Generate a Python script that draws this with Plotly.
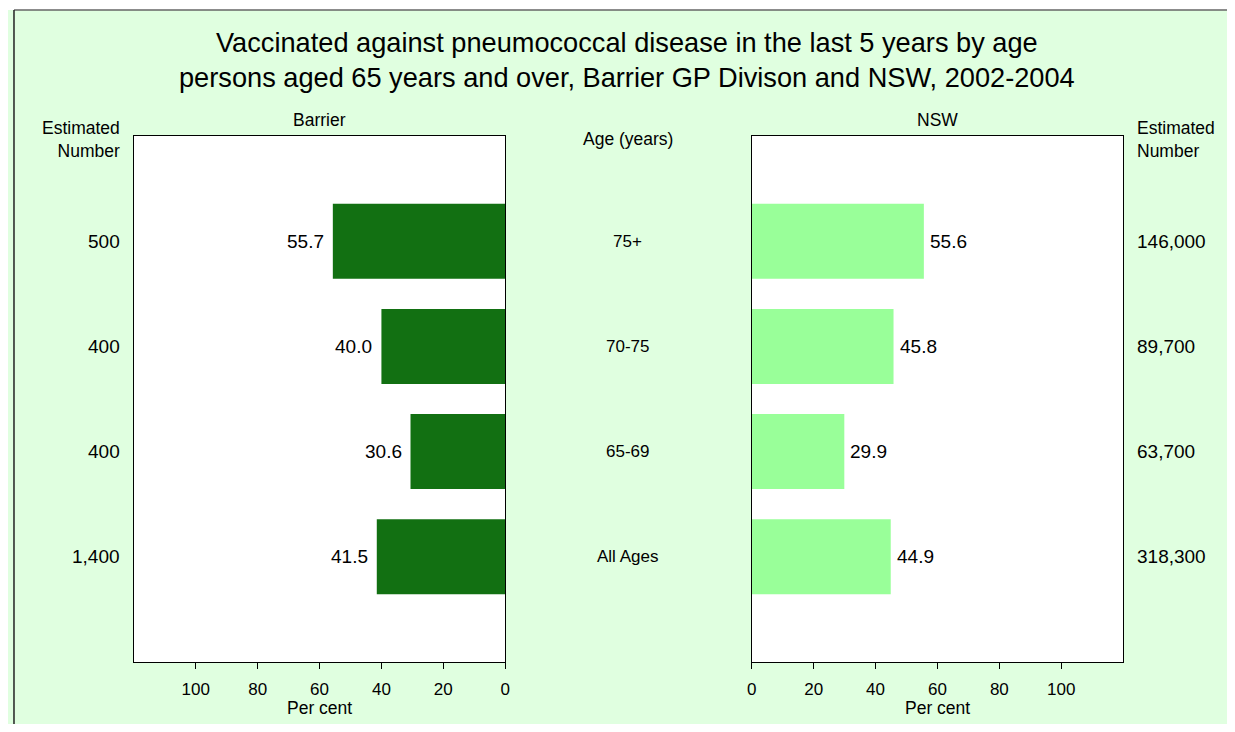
import plotly.graph_objects as go

ages = ["75+", "70-75", "65-69", "All Ages"]
barrier_pct = [55.7, 40.0, 30.6, 41.5]
nsw_pct = [55.6, 45.8, 29.9, 44.9]
barrier_n = ["500", "400", "400", "1,400"]
nsw_n = ["146,000", "89,700", "63,700", "318,300"]
x_ticks = [0, 20, 40, 60, 80, 100]

# page is offset by the default 8px body margin; keep the page from overflowing
OFF = 8
W, H = 1235 - OFF, 732 - 2 * OFF
FONT = "Liberation Sans, Arial, sans-serif"
BG = "#E0FFE0"
HS = 1.0065  # small horizontal stretch about the centre


def px(x):
    return (620 + (x - 620) * HS - OFF) / W


def py(y):
    return 1 - (y - OFF) / H


fig = go.Figure()
fig.add_trace(go.Bar(
    y=ages, x=barrier_pct, orientation="h", xaxis="x", yaxis="y",
    marker=dict(color="#127012", line=dict(width=0)), width=0.713,
    showlegend=False, hoverinfo="skip"))
fig.add_trace(go.Bar(
    y=ages, x=nsw_pct, orientation="h", xaxis="x2", yaxis="y2",
    marker=dict(color="#99FF99", line=dict(width=0)), width=0.713,
    showlegend=False, hoverinfo="skip"))

axis_common = dict(showgrid=False, zeroline=False, showline=True, linecolor="black",
                   linewidth=1, mirror=True, ticks="outside", ticklen=6, tickcolor="black",
                   tickvals=x_ticks, ticklabelstandoff=6,
                   tickfont=dict(size=17, color="black", family=FONT))
yaxis_common = dict(showgrid=False, zeroline=False, showline=True, linecolor="black",
                    linewidth=1, mirror=True, showticklabels=False, ticks="",
                    range=[4, -1], categoryorder="array", categoryarray=ages)

fig.update_layout(
    width=W, height=H,
    margin=dict(l=0, r=0, t=0, b=0),
    paper_bgcolor=BG, plot_bgcolor="white",
    font=dict(family=FONT, color="black"),
    xaxis=dict(domain=[px(133), px(505)], range=[120, 0], anchor="y", **axis_common),
    yaxis=dict(domain=[py(662), py(136)], anchor="x", **yaxis_common),
    xaxis2=dict(domain=[px(752), px(1124)], range=[0, 120], anchor="y2", **axis_common),
    yaxis2=dict(domain=[py(662), py(136)], anchor="x2", **yaxis_common),
)


def pa(text, x, y, size, xanchor="center", align="center"):
    return dict(text=text, x=px(x), y=py(y), xref="paper", yref="paper", showarrow=False,
                xanchor=xanchor, yanchor="middle", align=align, font=dict(size=size))


ann = [
    pa("Vaccinated against pneumococcal disease in the last 5 years by age<br>"
       "persons aged 65 years and over, Barrier GP Divison and NSW, 2002-2004",
       627.5, 60, 27.2),
    pa("Barrier", 319, 120, 17.5),
    pa("NSW", 938, 120, 17.5),
    pa("Age (years)", 628, 139, 17.5),
    pa("Estimated<br>Number", 121, 140, 17.5, "right", "right"),
    pa("Estimated<br>Number", 1136, 140, 17.5, "left", "left"),
    pa("Per cent", 319, 708, 17.5),
    pa("Per cent", 938, 708, 17.5),
]
for a, bv, nv, bn, nn in zip(ages, barrier_pct, nsw_pct, barrier_n, nsw_n):
    ann.append(dict(text=a, x=px(628), y=a, xref="paper", yref="y", showarrow=False,
                    xanchor="center", yanchor="middle", font=dict(size=17)))
    ann.append(dict(text=bn, x=px(121), y=a, xref="paper", yref="y", showarrow=False,
                    xanchor="right", yanchor="middle", font=dict(size=19)))
    ann.append(dict(text=nn, x=px(1136), y=a, xref="paper", yref="y", showarrow=False,
                    xanchor="left", yanchor="middle", font=dict(size=19)))
    ann.append(dict(text=f"{bv:.1f}", x=bv, y=a, xref="x", yref="y", showarrow=False,
                    xanchor="right", yanchor="middle", xshift=-7, font=dict(size=19)))
    ann.append(dict(text=f"{nv:.1f}", x=nv, y=a, xref="x2", yref="y2", showarrow=False,
                    xanchor="left", yanchor="middle", xshift=4, font=dict(size=19)))
fig.update_layout(annotations=ann)

bx = 1 / W  # left border as close to the page edge as the figure allows
shapes = [
    dict(type="rect", xref="paper", yref="paper", x0=-0.01, x1=1.01, y0=py(10), y1=1.01,
         fillcolor="white", line=dict(width=0), layer="above"),
    dict(type="line", xref="paper", yref="paper", x0=bx, x1=1.01, y0=py(10), y1=py(10),
         line=dict(color="#666666", width=1.5)),
    dict(type="line", xref="paper", yref="paper", x0=bx, x1=bx, y0=-0.01, y1=py(10),
         line=dict(color="#222222", width=1.5)),
]
fig.update_layout(shapes=shapes)

fig.write_html("out.html")
